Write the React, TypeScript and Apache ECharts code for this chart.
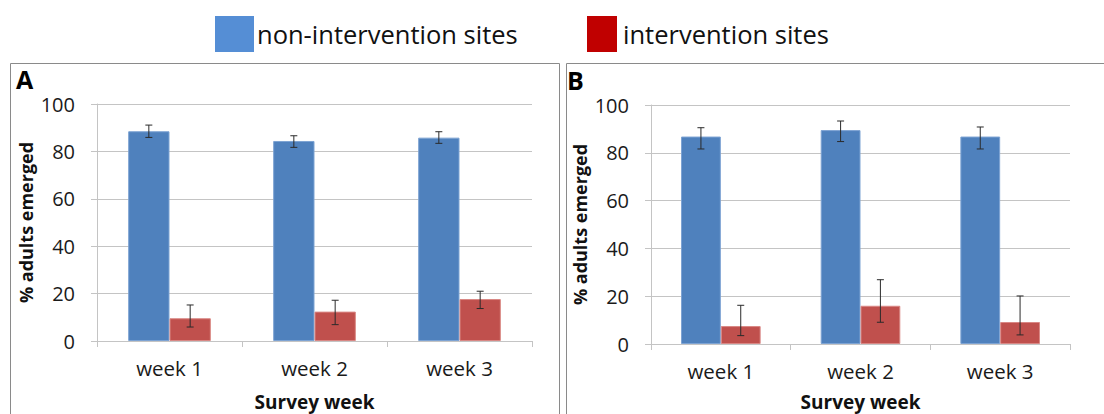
import React, { useEffect, useRef } from "react";
import * as echarts from "echarts";

const weeks = ["week 1", "week 2", "week 3"];
const yTicks = [0, 20, 40, 60, 80, 100];

const seriesNames = ["non-intervention sites", "intervention sites"];

// Panel A
const aNon = [88.5, 84.4, 85.8];
const aNonLow = [85.9, 81.7, 83.4];
const aNonHigh = [91.1, 86.6, 88.3];
const aInt = [9.6, 12.4, 17.7];
const aIntLow = [5.9, 6.9, 13.7];
const aIntHigh = [15.2, 17.2, 21.0];

// Panel B
const bNon = [86.8, 89.5, 86.8];
const bNonLow = [81.6, 84.7, 81.6];
const bNonHigh = [90.5, 93.3, 90.8];
const bInt = [7.5, 16.0, 9.2];
const bIntLow = [3.5, 9.1, 3.8];
const bIntHigh = [16.2, 26.9, 20.1];

const FONT = "'Open Sans', sans-serif";
const BLUE = "#4F81BD";
const RED = "#C0504D";
const GRIDC = "#c4c4c4";

function errData(low: number[], high: number[], sign: number) {
  return low.map((l, i) => [i, l, high[i], sign]);
}

const renderErr = (params: any, api: any) => {
  const x = api.value(0);
  const lo = api.coord([x, api.value(1)]);
  const hi = api.coord([x, api.value(2)]);
  const bw = api.size([1, 0])[0];
  const cx = lo[0] + api.value(3) * bw * 0.1425;
  const cap = 3.5;
  const st = { stroke: "#2a2a2a", lineWidth: 1 };
  return {
    type: "group",
    children: [
      { type: "line", shape: { x1: cx, y1: hi[1], x2: cx, y2: lo[1] }, style: st },
      { type: "line", shape: { x1: cx - cap, y1: hi[1], x2: cx + cap, y2: hi[1] }, style: st },
      { type: "line", shape: { x1: cx - cap, y1: lo[1], x2: cx + cap, y2: lo[1] }, style: st },
    ],
  };
};

function xAxisCfg(gridIndex: number, nameGap: number) {
  return {
    type: "category",
    gridIndex,
    data: weeks,
    boundaryGap: true,
    name: "Survey week",
    nameLocation: "middle",
    nameGap,
    nameTextStyle: { fontFamily: FONT, fontSize: 19, fontWeight: "bold", color: "#111" },
    axisLine: { show: true, lineStyle: { color: GRIDC, width: 1 } },
    axisTick: { show: true, length: 6, lineStyle: { color: GRIDC } },
    axisLabel: { fontFamily: FONT, fontSize: 20.5, color: "#1a1a1a", margin: 16 },
  };
}

function yAxisCfg(gridIndex: number) {
  return {
    type: "value",
    gridIndex,
    min: yTicks[0],
    max: yTicks[yTicks.length - 1],
    interval: 20,
    name: "% adults emerged",
    nameLocation: "middle",
    nameRotate: 90,
    nameGap: 62,
    nameTextStyle: { fontFamily: FONT, fontSize: 18, fontWeight: "bold", color: "#111" },
    axisLine: { show: true, lineStyle: { color: GRIDC, width: 1 } },
    axisTick: { show: true, length: 6, lineStyle: { color: GRIDC } },
    axisLabel: { fontFamily: FONT, fontSize: 20, color: "#1a1a1a", margin: 22 },
    splitLine: { show: true, lineStyle: { color: GRIDC, width: 1 } },
  };
}

function barSeries(name: string, data: number[], color: string, border: string, idx: number) {
  return {
    type: "bar",
    name,
    xAxisIndex: idx,
    yAxisIndex: idx,
    data,
    barGap: "0%",
    barCategoryGap: "43%",
    itemStyle: { color, borderColor: border, borderWidth: 1 },
    emphasis: { disabled: true },
  };
}

function errSeries(idx: number, data: any[]) {
  return {
    type: "custom",
    xAxisIndex: idx,
    yAxisIndex: idx,
    data,
    renderItem: renderErr,
    z: 10,
    silent: true,
  };
}

export default function App() {
  const ref = useRef<HTMLDivElement>(null);
  useEffect(() => {
    if (!ref.current) return;
    const chart = echarts.init(ref.current, null, { renderer: "svg" });
    const legendText = { fontFamily: FONT, fontSize: 25.5, color: "#111", padding: [0, 0, 16, -2] };
    chart.setOption({
      animation: false,
      backgroundColor: "#ffffff",
      legend: [
        {
          data: [{ name: seriesNames[0], itemStyle: { color: "#558ED5", borderWidth: 0 } }],
          left: 215,
          top: 16,
          padding: 0,
          icon: "rect",
          itemWidth: 39,
          itemHeight: 36,
          selectedMode: false,
          textStyle: legendText,
        },
        {
          data: [{ name: seriesNames[1], itemStyle: { color: "#C00000", borderWidth: 0 } }],
          left: 587,
          top: 16,
          padding: 0,
          icon: "rect",
          itemWidth: 30,
          itemHeight: 36,
          selectedMode: false,
          textStyle: { ...legendText, padding: [0, 0, 16, 1] },
        },
      ],
      grid: [
        { left: 97, top: 104, width: 435, height: 237, outerBoundsMode: "none", containLabel: false },
        { left: 651, top: 105, width: 419, height: 239, outerBoundsMode: "none", containLabel: false },
      ],
      xAxis: [xAxisCfg(0, 51), xAxisCfg(1, 48)],
      yAxis: [yAxisCfg(0), yAxisCfg(1)],
      graphic: [
        {
          type: "rect",
          shape: { x: 10.5, y: 63.5, width: 549, height: 400 },
          style: { fill: "none", stroke: "#8a8a8a", lineWidth: 1 },
          silent: true,
          z: -1,
        },
        {
          type: "rect",
          shape: { x: 566.5, y: 63.5, width: 600, height: 400 },
          style: { fill: "none", stroke: "#8a8a8a", lineWidth: 1 },
          silent: true,
          z: -1,
        },
        {
          type: "text",
          x: 16,
          y: 79,
          style: { text: "A", fontFamily: FONT, fontSize: 25, fontWeight: "bold", fill: "#000", verticalAlign: "middle" },
        },
        {
          type: "text",
          x: 567,
          y: 80,
          style: { text: "B", fontFamily: FONT, fontSize: 25, fontWeight: "bold", fill: "#000", verticalAlign: "middle" },
        },
      ],
      series: [
        barSeries(seriesNames[0], aNon, BLUE, "#7da3d3", 0),
        barSeries(seriesNames[1], aInt, RED, "#d98784", 0),
        errSeries(0, errData(aNonLow, aNonHigh, -1)),
        errSeries(0, errData(aIntLow, aIntHigh, 1)),
        barSeries(seriesNames[0], bNon, BLUE, "#7da3d3", 1),
        barSeries(seriesNames[1], bInt, RED, "#d98784", 1),
        errSeries(1, errData(bNonLow, bNonHigh, -1)),
        errSeries(1, errData(bIntLow, bIntHigh, 1)),
      ],
    });
    return () => chart.dispose();
  }, []);
  return (
    <div
      ref={ref}
      style={{ position: "fixed", left: 0, top: 0, width: 1104, height: 414, background: "#fff" }}
    />
  );
}
